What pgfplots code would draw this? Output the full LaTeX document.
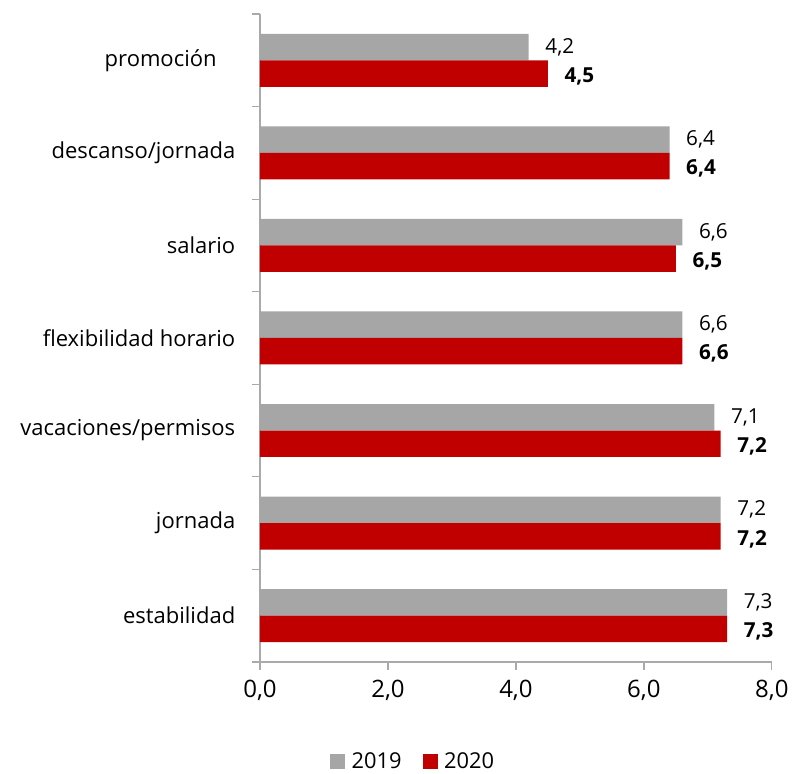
\documentclass[border=0pt]{standalone}
\usepackage{pgfplots}
\pgfplotsset{compat=1.18}
\usepackage{fontspec}
\setmainfont{Open Sans}
\definecolor{bargray}{RGB}{166,166,166}
\definecolor{barred}{RGB}{192,0,0}
\definecolor{axgray}{RGB}{170,170,170}
\begin{document}
\begin{tikzpicture}
\begin{axis}[
  scale only axis, width=384pt, height=486pt,
  xmin=0, xmax=8, ymin=-0.5, ymax=6.5, y dir=reverse,
  axis x line*=bottom, axis y line*=left,
  axis line style={axgray, line width=0.9pt},
  tick style={axgray, line width=0.9pt},
  tick align=outside,
  xtick={0,2,4,6,8}, major tick length=6pt,
  ytick={0,...,6}, minor ytick={-0.5,0.5,...,6.5},
  major y tick style={draw=none}, minor tick length=6pt,
  yticklabels={promoción\rule{14pt}{0pt},descanso/jornada,salario,flexibilidad horario,vacaciones/permisos,jornada,estabilidad},
  y tick label style={font=\fontsize{16.5}{19}\selectfont, xshift=-9pt},
  x tick label style={font=\fontsize{18}{21}\selectfont, yshift=-4pt},
  /pgf/number format/assume math mode=true,
  xticklabel={\pgfmathprintnumber[fixed,fixed zerofill,precision=1,use comma]{\tick}},
  xbar, bar width=0.286, point meta=x,
  nodes near coords={\pgfmathprintnumber[fixed,fixed zerofill,precision=1,use comma]{\pgfplotspointmeta}},
  nodes near coords style={anchor=west, xshift=9pt, text=black},
  legend style={draw=none, inner sep=0pt, at={(0.30,-0.154)}, anchor=center, legend columns=2,
    font=\fontsize{16.4}{19}\selectfont, /tikz/every even column/.append style={column sep=14pt}},
  legend image code/.code={\fill[#1] (0pt,-5.5pt) rectangle (11pt,5.5pt);},
  legend cell align=left,
]
\addplot[fill=bargray, draw=none, bar shift=-0.143,
  nodes near coords style={font=\fontsize{15.5}{18}\selectfont}]
  coordinates {(4.2,0) (6.4,1) (6.6,2) (6.6,3) (7.1,4) (7.2,5) (7.3,6)};
\addplot[fill=barred, draw=none, bar shift=0.143,
  nodes near coords style={font=\fontsize{15.5}{18}\selectfont\bfseries, yshift=-2pt}]
  coordinates {(4.5,0) (6.4,1) (6.5,2) (6.6,3) (7.2,4) (7.2,5) (7.3,6)};
\legend{\hspace{3pt}2019,\hspace{3pt}2020}
\end{axis}
\path ([yshift=10.5pt]current axis.north);
\path ([xshift=-195pt,yshift=-81pt]current axis.south west);
\path ([xshift=15.75pt]current axis.south east);
\end{tikzpicture}
\end{document}
